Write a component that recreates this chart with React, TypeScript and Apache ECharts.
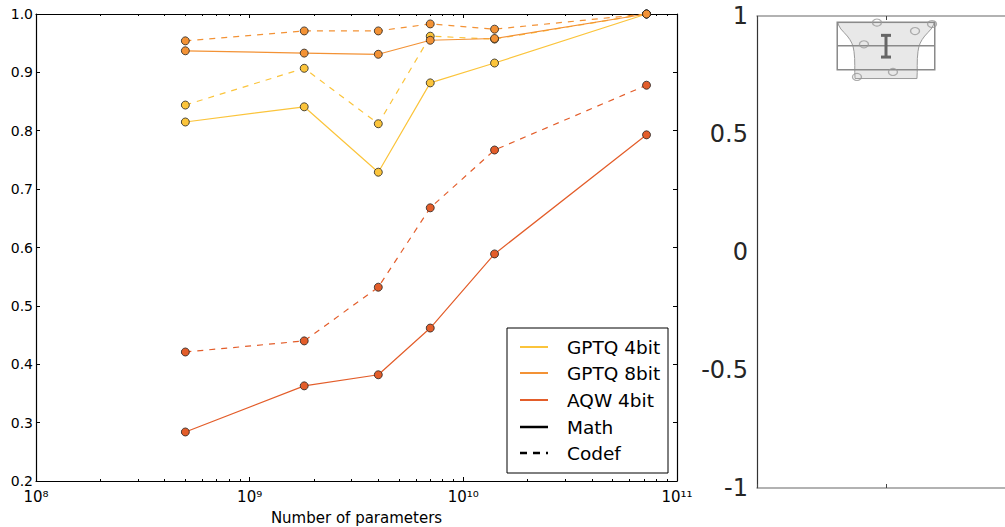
import React, { useEffect, useRef } from "react";
import * as echarts from "echarts";

// ---- Left panel data ----
const paramCounts = [0.5e9, 1.8e9, 4e9, 7e9, 14e9, 72e9];
const gptq4Math = [0.815, 0.841, 0.729, 0.882, 0.916, 1.0];
const gptq4Codef = [0.844, 0.907, 0.812, 0.962, 0.957, 1.0];
const gptq8Math = [0.937, 0.933, 0.931, 0.955, 0.958, 1.0];
const gptq8Codef = [0.954, 0.971, 0.971, 0.983, 0.974, 1.0];
const awqMath = [0.284, 0.363, 0.382, 0.462, 0.589, 0.793];
const awqCodef = [0.421, 0.44, 0.532, 0.668, 0.767, 0.878];
const methodNames = ["GPTQ 4bit", "GPTQ 8bit", "AQW 4bit"];
const taskNames = ["Math", "Codef"];
const methodColors = ["#fbc43b", "#f39235", "#e35d2a"];
const xMajorTicks = [1e8, 1e9, 1e10, 1e11];
const xMinorTicks = [
  2e8, 3e8, 4e8, 5e8, 6e8, 7e8, 8e8, 9e8,
  2e9, 3e9, 4e9, 5e9, 6e9, 7e9, 8e9, 9e9,
  2e10, 3e10, 4e10, 5e10, 6e10, 7e10, 8e10, 9e10,
];

// ---- Right panel data ----
const corrValues = [0.742, 0.88, 0.972, 0.763, 0.936, 0.966];
const corrJitter = [-0.225, -0.171, -0.07, 0.054, 0.225, 0.357];
const boxStats = [0.772, 0.874, 0.974]; // q1, median, q3
const meanCI = [0.826, 0.872, 0.918]; // low, mean, high
const violinY = [0.972, 0.962, 0.945, 0.93, 0.915, 0.9, 0.885, 0.87, 0.85, 0.82, 0.79, 0.76, 0.735];
const violinHalfWidth = [0.372, 0.368, 0.35, 0.325, 0.3, 0.28, 0.265, 0.255, 0.248, 0.243, 0.242, 0.242, 0.24];
const boxHalfWidth = 0.378;

const SUP: Record<string, string> = {
  "0": "\u2070", "1": "\u00B9", "2": "\u00B2", "3": "\u00B3", "4": "\u2074",
  "5": "\u2075", "6": "\u2076", "7": "\u2077", "8": "\u2078", "9": "\u2079",
};
const pow10Label = (v: number) => {
  const e = String(Math.round(Math.log10(v)));
  return "10" + e.split("").map((c) => SUP[c]).join("");
};

const FONT = "DejaVu Sans";

export default function App() {
  const ref = useRef<HTMLDivElement>(null);
  useEffect(() => {
    if (!ref.current) return;
    const chart = echarts.init(ref.current, null, { renderer: "svg" });

    const lineSeries: any[] = [];
    const sets = [
      [gptq4Math, gptq4Codef],
      [gptq8Math, gptq8Codef],
      [awqMath, awqCodef],
    ];
    sets.forEach((pair, mi) => {
      pair.forEach((vals, ti) => {
        lineSeries.push({
          name: methodNames[mi] + " " + taskNames[ti],
          type: "line",
          xAxisIndex: 0,
          yAxisIndex: 0,
          data: paramCounts.map((p, i) => [p, vals[i]]),
          symbol: "circle",
          symbolSize: 8,
          showSymbol: true,
          itemStyle: { color: methodColors[mi], borderColor: "#222", borderWidth: 0.8 },
          lineStyle: { color: methodColors[mi], width: 1.2, type: ti === 0 ? "solid" : [6, 6] },
          z: 3,
        });
      });
    });

    const legendY = [347, 373, 400, 427, 453];
    const legendLabels = [...methodNames, ...taskNames];
    const legendColors = [...methodColors, "#000", "#000"];
    const legendChildren: any[] = [
      {
        type: "rect",
        shape: { x: 507, y: 328, width: 161, height: 145 },
        style: { fill: "#fff", stroke: "#000", lineWidth: 1 },
      },
    ];
    legendLabels.forEach((lab, i) => {
      legendChildren.push({
        type: "line",
        shape: { x1: 520, y1: legendY[i], x2: 548, y2: legendY[i] },
        style: {
          stroke: legendColors[i],
          lineWidth: i < 3 ? 2 : 2.5,
          lineDash: i === 4 ? [7, 6] : null,
        },
      });
      legendChildren.push({
        type: "text",
        x: 567,
        y: legendY[i],
        style: {
          text: lab,
          fill: "#000",
          font: `18.5px "${FONT}"`,
          verticalAlign: "middle",
          align: "left",
        },
      });
    });

    const logAxisBase = (position: string) => ({
      gridIndex: 0,
      type: "log",
      logBase: 10,
      min: 1e8,
      max: 1e11,
      position,
      splitLine: { show: false },
      minorSplitLine: { show: false },
    });

    const option: any = {
      animation: false,
      backgroundColor: "#fff",
      textStyle: { fontFamily: FONT },
      grid: [
        { left: 36, top: 14, width: 641, height: 467, containLabel: false, outerBoundsMode: "none" },
        { left: 757, top: 16, width: 248, height: 472, containLabel: false, outerBoundsMode: "none" },
      ],
      xAxis: [
        {
          ...logAxisBase("bottom"),
          axisLine: { lineStyle: { color: "#000", width: 1.2 } },
          axisTick: { inside: true, length: 4, customValues: xMajorTicks, lineStyle: { color: "#000" } },
          axisLabel: {
            formatter: pow10Label,
            customValues: xMajorTicks,
            color: "#000",
            fontSize: 15,
            margin: 8,
            fontFamily: FONT,
          },
          name: "Number of parameters",
          nameLocation: "middle",
          nameGap: 29,
          nameTextStyle: { color: "#000", fontSize: 15, fontFamily: FONT },
        },
        {
          ...logAxisBase("top"),
          axisLine: { lineStyle: { color: "#000", width: 1.2 } },
          axisTick: { inside: true, length: 4, customValues: xMajorTicks, lineStyle: { color: "#000" } },
          axisLabel: { show: false },
        },
        {
          ...logAxisBase("bottom"),
          axisLine: { show: false },
          axisTick: { inside: true, length: 2, customValues: xMinorTicks, lineStyle: { color: "#000" } },
          axisLabel: { show: false },
        },
        {
          ...logAxisBase("top"),
          axisLine: { show: false },
          axisTick: { inside: true, length: 2, customValues: xMinorTicks, lineStyle: { color: "#000" } },
          axisLabel: { show: false },
        },
        {
          gridIndex: 1,
          type: "value",
          min: -1,
          max: 0.9225,
          interval: 1,
          position: "bottom",
          axisLine: { onZero: false, lineStyle: { color: "#999", width: 1.5 } },
          axisTick: { inside: true, length: 4, lineStyle: { color: "#444" } },
          splitLine: { show: false },
          axisLabel: { show: false },
        },
        {
          gridIndex: 1,
          type: "value",
          min: -1,
          max: 0.9225,
          interval: 1,
          position: "top",
          axisLine: { onZero: false, lineStyle: { color: "#999", width: 1.5 } },
          axisTick: { inside: true, length: 4, lineStyle: { color: "#444" } },
          splitLine: { show: false },
          axisLabel: { show: false },
        },
      ],
      yAxis: [
        {
          gridIndex: 0,
          type: "value",
          min: 0.2,
          max: 1.0,
          interval: 0.1,
          position: "left",
          axisLine: { onZero: false, lineStyle: { color: "#000", width: 1.2 } },
          axisTick: { inside: true, length: 4, lineStyle: { color: "#000" } },
          splitLine: { show: false },
          axisLabel: {
            formatter: (v: number) => v.toFixed(1),
            color: "#000",
            fontSize: 14,
            margin: 3,
            fontFamily: FONT,
          },
        },
        {
          gridIndex: 0,
          type: "value",
          min: 0.2,
          max: 1.0,
          interval: 0.1,
          position: "right",
          axisLine: { show: true, onZero: false, lineStyle: { color: "#000", width: 1.2 } },
          axisTick: { inside: true, length: 4, lineStyle: { color: "#000" } },
          splitLine: { show: false },
          axisLabel: { show: false },
        },
        {
          gridIndex: 1,
          type: "value",
          min: -1,
          max: 1,
          interval: 0.5,
          position: "left",
          axisLine: { onZero: false, lineStyle: { color: "#333", width: 1.2 } },
          axisTick: { show: false },
          splitLine: { show: false },
          axisLabel: { color: "#262626", fontSize: 24, margin: 9, fontFamily: FONT },
        },
      ],
      series: [
        ...lineSeries,
        {
          type: "custom",
          name: "violin",
          xAxisIndex: 4,
          yAxisIndex: 2,
          data: [[0, violinY[0]]],
          z: 2,
          renderItem: (params: any, api: any) => {
            const right = violinY.map((y, i) => api.coord([violinHalfWidth[i], y]));
            const left = violinY
              .map((y, i) => api.coord([-violinHalfWidth[i], y]))
              .reverse();
            return {
              type: "polygon",
              shape: { points: [...right, ...left] },
              style: { fill: "#e8e8e8", stroke: "#9a9a9a", lineWidth: 1 },
            };
          },
        },
        {
          type: "custom",
          name: "box",
          xAxisIndex: 4,
          yAxisIndex: 2,
          data: [[0, boxStats[0], boxStats[1], boxStats[2]]],
          z: 3,
          renderItem: (params: any, api: any) => {
            const c = api.value(0);
            const tl = api.coord([c - boxHalfWidth, api.value(3)]);
            const br = api.coord([c + boxHalfWidth, api.value(1)]);
            const ml = api.coord([c - boxHalfWidth, api.value(2)]);
            const mr = api.coord([c + boxHalfWidth, api.value(2)]);
            return {
              type: "group",
              children: [
                {
                  type: "rect",
                  shape: { x: tl[0], y: tl[1], width: br[0] - tl[0], height: br[1] - tl[1] },
                  style: { fill: "none", stroke: "#8a8a8a", lineWidth: 1.5 },
                },
                {
                  type: "line",
                  shape: { x1: ml[0], y1: ml[1], x2: mr[0], y2: mr[1] },
                  style: { stroke: "#8a8a8a", lineWidth: 1.5 },
                },
              ],
            };
          },
        },
        {
          type: "custom",
          name: "mean",
          xAxisIndex: 4,
          yAxisIndex: 2,
          data: [[0, meanCI[0], meanCI[1], meanCI[2]]],
          z: 4,
          renderItem: (params: any, api: any) => {
            const lo = api.coord([api.value(0), api.value(1)]);
            const hi = api.coord([api.value(0), api.value(3)]);
            const cap = 5;
            const st = { stroke: "#666", lineWidth: 3 };
            return {
              type: "group",
              children: [
                { type: "line", shape: { x1: lo[0], y1: lo[1], x2: hi[0], y2: hi[1] }, style: st },
                { type: "line", shape: { x1: lo[0] - cap, y1: lo[1], x2: lo[0] + cap, y2: lo[1] }, style: st },
                { type: "line", shape: { x1: hi[0] - cap, y1: hi[1], x2: hi[0] + cap, y2: hi[1] }, style: st },
              ],
            };
          },
        },
        {
          type: "scatter",
          name: "points",
          xAxisIndex: 4,
          yAxisIndex: 2,
          data: corrValues.map((v, i) => [corrJitter[i], v]),
          symbol: "circle",
          symbolSize: [9, 7],
          itemStyle: { color: "rgba(0,0,0,0)", borderColor: "#999", borderWidth: 1.2 },
          z: 5,
        },
      ],
      graphic: [{ type: "group", z: 100, children: legendChildren }],
    };

    chart.setOption(option);
    return () => chart.dispose();
  }, []);

  return (
    <div
      ref={ref}
      style={{ position: "fixed", left: 0, top: 0, width: 1005, height: 527, background: "#fff" }}
    />
  );
}
